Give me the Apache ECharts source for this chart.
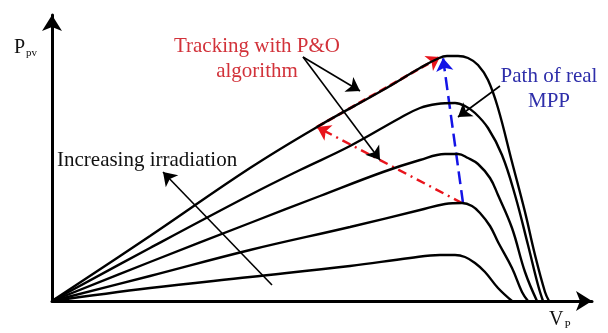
<!DOCTYPE html>
<html>
<head>
<meta charset="utf-8">
<script src="https://cdn.jsdelivr.net/npm/echarts@6/dist/echarts.min.js"></script>
<style>html,body{margin:0;padding:0;background:#fff;}#c{width:608px;height:333px;}</style>
</head>
<body>
<div id="c"></div>
<script>
// P-V curves for five irradiation levels (x = voltage units, y = power units)
const curve1 = [[0,0],[98,13],[198,24],[298,35],[358,43],[388,46],[403,46],[413,44],[423,38],[433,29],[446,13],[460,0]];
const curve2 = [[0,0],[98,25],[198,51],[298,74],[368,91],[393,97],[410,98],[420,95],[428,88],[438,75],[446,59],[460,33],[470,9],[476,0]];
const curve3 = [[0,0],[98,39],[198,78],[268,105],[331,129],[368,141],[393,147],[406,147],[416,143],[426,137],[438,123],[446,106],[460,73],[473,29],[485,0]];
const curve4 = [[0,0],[98,53],[198,106],[248,131],[298,155],[348,183],[368,193],[385,197],[403,198],[413,195],[423,188],[436,173],[450,146],[463,106],[476,56],[486,16],[491,0]];
const curve5 = [[0,0],[98,65],[198,133],[265,174],[331,211],[368,233],[385,242],[395,245],[406,245],[416,243],[426,236],[436,221],[446,193],[460,139],[473,89],[483,46],[493,9],[497,0]];
const curves = [curve1, curve2, curve3, curve4, curve5];

// Annotation arrows (start -> end, in data units)
const poTrackUp = [[265,174],[388,244]];
const poTrackBack = [[410,98],[265,174]];
const mppPath = [[411,98],[391,243]];
const pointerArrows = [
  [[251,244],[308,210]],
  [[251,244],[328,141]],
  [[448,215],[406,184]],
  [[220,16],[111,129]]
];

// Texts
const labelTracking = ['Tracking with P&O', 'algorithm'];
const labelMpp = ['Path of real', 'MPP'];
const labelIrr = 'Increasing irradiation';

const chart = echarts.init(document.getElementById('c'), null, {renderer:'canvas'});
const serif = '"Liberation Serif", "DejaVu Serif", serif';
const redText = '#d2323a', redLine = '#e8141c', blueText = '#2e2eaa', blueLine = '#1414e6';

const series = curves.map(c => ({
  type: 'line', data: c, symbol: 'none', smooth: 0.4,
  lineStyle: {color: '#000', width: 2.4}, silent: true, clip: false
}));
series.push({
  type: 'lines', coordinateSystem: 'cartesian2d', clip: false,
  symbol: ['none','arrow'], symbolSize: 13,
  lineStyle: {color: redLine, width: 2.8, type: [8,4], opacity: 1},
  data: [{coords: poTrackUp}]
});
series.push({
  type: 'lines', coordinateSystem: 'cartesian2d', clip: false,
  symbol: ['none','arrow'], symbolSize: 13,
  lineStyle: {color: redLine, width: 2.5, type: [9,5,2,5], opacity: 1},
  data: [{coords: poTrackBack}]
});
series.push({
  type: 'lines', coordinateSystem: 'cartesian2d', clip: false,
  symbol: ['none','arrow'], symbolSize: 13,
  lineStyle: {color: blueLine, width: 2.5, type: [13,6], opacity: 1},
  data: [{coords: mppPath}]
});
series.push({
  type: 'lines', coordinateSystem: 'cartesian2d', clip: false,
  symbol: ['none','arrow'], symbolSize: 13,
  lineStyle: {color: '#000', width: 1.6, opacity: 1},
  data: pointerArrows.map(p => ({coords: p}))
});

chart.setOption({
  animation: false,
  backgroundColor: '#fff',
  grid: {left: 52, right: 16, top: 15, bottom: 32},
  xAxis: {type: 'value', min: 0, max: 540, splitLine: {show:false}, axisTick: {show:false}, axisLabel: {show:false},
    axisLine: {show: true, onZero: false, symbol: ['none','arrow'], symbolSize: [15,16], lineStyle: {color:'#000', width: 3}}},
  yAxis: {type: 'value', min: 0, max: 286, splitLine: {show:false}, axisTick: {show:false}, axisLabel: {show:false},
    axisLine: {show: true, onZero: false, symbol: ['none','arrow'], symbolSize: [15,16], lineStyle: {color:'#000', width: 3}}},
  series: series,
  graphic: [
    {type:'text', left: 14, top: 38, style: {rich: {a:{fontFamily: serif, fontSize: 20, fill:'#111'}, b:{fontFamily: serif, fontSize: 11, fill:'#111', padding:[10,0,0,1]}}, text: '{a|P}{b|pv}'}},
    {type:'text', left: 549, top: 310, style: {rich: {a:{fontFamily: serif, fontSize: 20, fill:'#111'}, b:{fontFamily: serif, fontSize: 11, fill:'#111', padding:[10,0,0,1]}}, text: '{a|V}{b|P}'}},
    {type:'text', x: 257, y: 46, style: {text: labelTracking[0], fontFamily: serif, fontSize: 21, fill: redText, textAlign:'center', textVerticalAlign:'middle'}},
    {type:'text', x: 257, y: 71, style: {text: labelTracking[1], fontFamily: serif, fontSize: 21, fill: redText, textAlign:'center', textVerticalAlign:'middle'}},
    {type:'text', x: 549, y: 76, style: {text: labelMpp[0], fontFamily: serif, fontSize: 21, fill: blueText, textAlign:'center', textVerticalAlign:'middle'}},
    {type:'text', x: 549, y: 101, style: {text: labelMpp[1], fontFamily: serif, fontSize: 21, fill: blueText, textAlign:'center', textVerticalAlign:'middle'}},
    {type:'text', x: 57, y: 160, style: {text: labelIrr, fontFamily: serif, fontSize: 21, fill: '#111', textAlign:'left', textVerticalAlign:'middle'}}
  ]
});
</script>
</body>
</html>
